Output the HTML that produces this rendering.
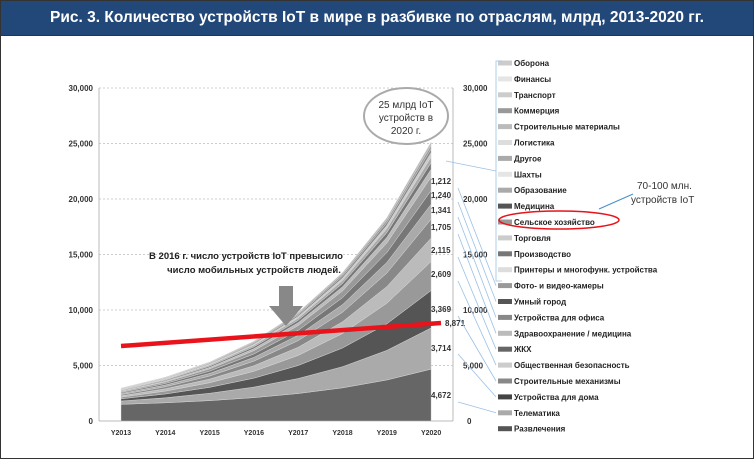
<!DOCTYPE html><html><head><meta charset="utf-8"><style>
body{margin:0;background:#fff}
#w{position:relative;width:752px;height:457px;border:1px solid #333;overflow:hidden;font-family:"Liberation Sans","DejaVu Sans",sans-serif}
#t{height:34px;background:#22487a;color:#fff;font-weight:bold;font-size:15.5px;line-height:34px;text-align:center;border-bottom:1px solid #333}
svg{position:absolute;left:0;top:0}
</style></head><body><div id="w"><div id="t">Рис. 3. Количество устройств IoT в мире в разбивке по отраслям, млрд, 2013-2020 гг.</div>
<svg id="s" width="754" height="459" font-family="Liberation Sans, DejaVu Sans, sans-serif"></svg></div>
<script>
var s=document.getElementById('s'),h='';
function Y(v){return 420-v*0.0111}
function X(i){return 120+i*44.3}
for(var k=0;k<=6;k++){var v=k*5000,y=Y(v);
 if(k>0)h+='<line x1="98" x2="452" y1="'+y+'" y2="'+y+'" stroke="#ccc" stroke-dasharray="2,2"/>';
 h+='<text x="92" y="'+(y+3)+'" font-size="8" font-weight="bold" text-anchor="end" fill="#333">'+(k==0?'0':(v/1000)+',000')+'</text>';
 h+='<text x="'+(k==0?466:462)+'" y="'+(y+3)+'" font-size="8" font-weight="bold" fill="#333">'+(k==0?'0':(v/1000)+',000')+'</text>';}
h+='<line x1="98" x2="98" y1="87" y2="420" stroke="#bbb"/><line x1="98" x2="452" y1="420" y2="420" stroke="#bbb"/><line x1="452" x2="452" y1="87" y2="420" stroke="#bbb"/>';
var L=[[1500,4672,'#666'],[300,3714,'#aaa'],[200,3369,'#555'],[150,2609,'#999'],[120,2115,'#bbb'],[110,1705,'#888'],[100,1341,'#aaa'],[90,1240,'#777'],[80,1212,'#999'],[60,700,'#bbb'],[60,600,'#777'],[50,500,'#aaa'],[40,400,'#ccc'],[40,350,'#888'],[30,300,'#999'],[30,300,'#bbb']];
var base=[0,0,0,0,0,0,0,0];
function sh(t){return (Math.pow(1.38,t)-1)/(Math.pow(1.38,7)-1)}
L.forEach(function(l){var top=[];for(var i=0;i<8;i++){var f=sh(i);top.push(base[i]+l[0]+(l[1]-l[0])*f)}
 var d='M'+X(0)+','+Y(top[0]);for(var i=1;i<8;i++)d+=' L'+X(i)+','+Y(top[i]);
 for(var i=7;i>=0;i--)d+=' L'+X(i)+','+Y(base[i]);
 h+='<path d="'+d+'Z" fill="'+l[2]+'" stroke="#ddd" stroke-width="0.4"/>';base=top;});
var yrs=['Y2013','Y2014','Y2015','Y2016','Y2017','Y2018','Y2019','Y2020'];
yrs.forEach(function(y,i){h+='<text x="'+X(i)+'" y="434" font-size="7" font-weight="bold" text-anchor="middle" fill="#333">'+y+'</text>'});
h+='<line x1="120" y1="345" x2="440" y2="322" stroke="#e8131b" stroke-width="4.5"/>';
h+='<path d="M278,285 L292,285 L292,305 L302,305 L285,325 L268,305 L278,305Z" fill="#888"/>';
h+='<text x="245" y="258" font-size="9.5" font-weight="bold" text-anchor="middle" fill="#222">В 2016 г. число устройств IoT превысило</text><text x="253" y="272" font-size="9.5" font-weight="bold" text-anchor="middle" fill="#222">число мобильных устройств людей.</text>';
h+='<ellipse cx="405" cy="115" rx="42" ry="28" fill="#fff" stroke="#aaa" stroke-width="2"/>';
h+='<text font-size="10" text-anchor="middle" fill="#333"><tspan x="405" y="107">25 млрд IoT</tspan><tspan x="405" y="120">устройств в</tspan><tspan x="405" y="133">2020 г.</tspan></text>';
[['1,212',183,430],['1,240',197,430],['1,341',212,430],['1,705',229,430],['2,115',252,430],['2,609',276,430],['3,369',311,430],['8,871',325,444],['3,714',350,430],['4,672',397,430]].forEach(function(a){h+='<text x="'+a[2]+'" y="'+a[1]+'" font-size="8" font-weight="bold" fill="#333">'+a[0]+'</text>'});
var it=['Оборона','Финансы','Транспорт','Коммерция','Строительные материалы','Логистика','Другое','Шахты','Образование','Медицина','Сельское хозяйство','Торговля','Производство','Принтеры и многофунк. устройства','Фото- и видео-камеры','Умный город','Устройства для офиса','Здравоохранение / медицина','ЖКХ','Общественная безопасность','Строительные механизмы','Устройства для дома','Телематика','Развлечения'];
var lc=['#ccc','#e5e5e5','#ccc','#999','#bbb','#ddd','#aaa','#e5e5e5','#aaa','#555','#999','#ccc','#777','#ddd','#999','#555','#888','#bbb','#666','#ccc','#888','#444','#aaa','#555'];
it.forEach(function(t,i){var y=62+i*15.9;h+='<rect x="497" y="'+(y-2.5)+'" width="14" height="5" fill="'+lc[i]+'"/><text x="513" y="'+(y+3)+'" font-size="8" font-weight="bold" fill="#222">'+t+'</text>';
 if(i>=14){var ly=[187,201,216,233,256,280,315,353,401][Math.min(i-14,8)];if(i<23)h+='<line x1="457" y1="'+ly+'" x2="495" y2="'+(y)+'" stroke="#9bc1e6" stroke-width="0.8"/>';}});
h+='<path d="M501,60 L495,60 L495,280 L501,280 M495,170 L445,160" fill="none" stroke="#9bc1e6" stroke-width="0.8"/>';
h+='<ellipse cx="558" cy="219" rx="60" ry="9" fill="none" stroke="#e8131b" stroke-width="1.5"/>';
h+='<line x1="632" y1="193" x2="598" y2="208" stroke="#4a90d0" stroke-width="1.2"/>';
h+='<text font-size="10" fill="#333"><tspan x="636" y="188">70-100 млн.</tspan><tspan x="630" y="202">устройств IoT</tspan></text>';
s.innerHTML=h;
</script></body></html>
